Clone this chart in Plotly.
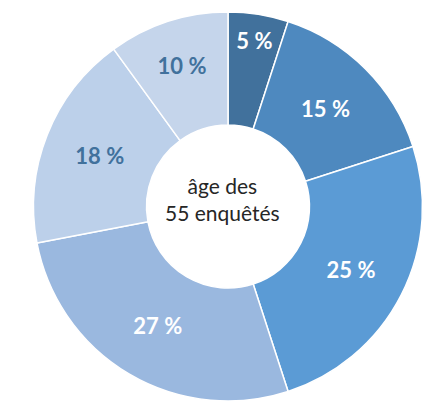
import plotly.graph_objects as go

# Répartition par âge des 55 enquêtés (parts en %)
groupes = ["Groupe 1", "Groupe 2", "Groupe 3", "Groupe 4", "Groupe 5", "Groupe 6"]
parts = [5, 15, 25, 27, 18, 10]

couleurs = ["#41719C", "#4E89BF", "#5B9BD5", "#9AB8DF", "#BCD0EA", "#C5D5EB"]
couleurs_texte = ["#FFFFFF", "#FFFFFF", "#FFFFFF", "#FFFFFF", "#41719C", "#41719C"]

W, H = 439, 401
cx, cy = 228, 208.5

fig = go.Figure(
    go.Pie(
        labels=groupes,
        values=parts,
        sort=False,
        direction="clockwise",
        rotation=0,
        hole=0.419,
        marker=dict(colors=couleurs, line=dict(color="#FFFFFF", width=1.5)),
        texttemplate="%{value}\u202f%",
        textposition="inside",
        insidetextorientation="horizontal",
        insidetextfont=dict(family="Lato", size=22, color=couleurs_texte, weight="bold"),
        hoverinfo="label+value",
        showlegend=False,
        domain=dict(x=[(cx - 200) / W, (cx + 200) / W], y=[0, 0.97]),
    )
)

fig.add_annotation(
    text="âge des<br>55 enquêtés",
    x=222 / W,
    y=1 - 199 / H,
    xref="paper",
    yref="paper",
    showarrow=False,
    font=dict(family="Lato", size=21, color="#262626"),
    align="center",
)

fig.update_layout(
    width=W,
    height=H,
    margin=dict(l=0, r=0, t=0, b=0),
    paper_bgcolor="#FFFFFF",
    plot_bgcolor="#FFFFFF",
)

fig.write_html("out.html")
